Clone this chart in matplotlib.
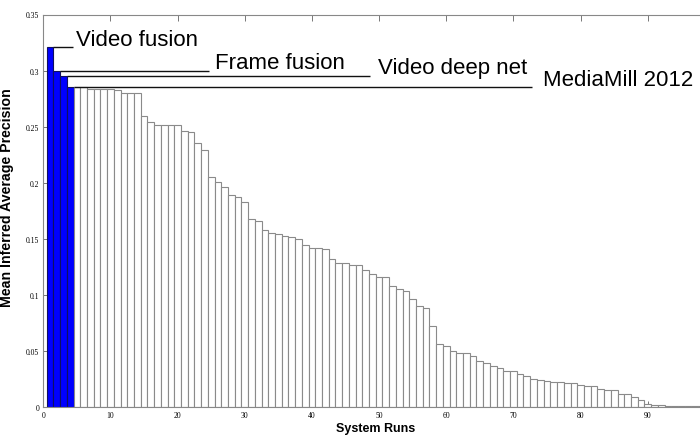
import matplotlib
matplotlib.use("Agg")
import matplotlib.pyplot as plt
import numpy as np

# ---- data ----
runs = list(range(1, 100))
map_values = [
    0.321, 0.300, 0.2954, 0.2853,
    0.285, 0.285, 0.2835, 0.2835, 0.2835, 0.2835, 0.283, 0.2797, 0.2797, 0.2797,
    0.259, 0.2538, 0.2517, 0.2517, 0.2517, 0.2517, 0.246, 0.2449, 0.235, 0.2288,
    0.2047, 0.2008, 0.1958, 0.1886, 0.1868, 0.1824, 0.1672, 0.166, 0.158, 0.1547,
    0.1538, 0.152, 0.1512, 0.1497, 0.144, 0.1419, 0.1419, 0.1405, 0.1318, 0.128,
    0.128, 0.1267, 0.1267, 0.1217, 0.1183, 0.1158, 0.1158, 0.1077, 0.105, 0.103,
    0.0961, 0.0899, 0.0879, 0.072, 0.0557, 0.0544, 0.0494, 0.0476, 0.0476, 0.0455,
    0.041, 0.0387, 0.036, 0.0348, 0.0316, 0.0316, 0.0289, 0.0271, 0.025, 0.0235,
    0.0227, 0.0218, 0.0218, 0.0209, 0.0209, 0.0194, 0.0182, 0.0182, 0.0155, 0.0146,
    0.0146, 0.011, 0.011, 0.0087, 0.0058, 0.0025, 0.0019, 0.0019,
    0.0008, 0.0008, 0.0008, 0.0008, 0.0008, 0.0008, 0.0008,
]
highlight_labels = ["Video fusion", "Frame fusion", "Video deep net", "MediaMill 2012"]
x_ticks = [0, 10, 20, 30, 40, 50, 60, 70, 80, 90]
y_ticks = [0, 0.05, 0.1, 0.15, 0.2, 0.25, 0.3, 0.35]
y_tick_labels = ["0", "0.05", "0.1", "0.15", "0.2", "0.25", "0.3", "0.35"]

# layout constants for the annotation leader lines and label anchors (data x)
line_ends = [4.4, 24.7, 48.6, 72.8]
label_x = [4.85, 25.55, 49.8, 74.4]

fig = plt.figure(figsize=(7.0, 4.39), dpi=100)
ax = fig.add_axes([43.3 / 700, 31.3 / 439, 671.6 / 700, 392.2 / 439])

n_hl = len(highlight_labels)
colors = ["#0000ff"] * n_hl + ["white"] * (len(runs) - n_hl)
edges = ["#101060"] * n_hl + ["#8a8a8a"] * (len(runs) - n_hl)
ax.bar(runs, map_values, width=1.0, color=colors, edgecolor=edges, linewidth=0.8, zorder=2)

for i, (lab, xe, xl) in enumerate(zip(highlight_labels, line_ends, label_x)):
    yv = map_values[i]
    ax.plot([runs[i] + 0.5, xe], [yv, yv], color="#111111", lw=1.0, zorder=3,
            solid_capstyle="butt")
    ax.text(xl, yv + 0.002, lab, fontsize=16, family="Liberation Sans",
            ha="left", va="baseline", color="black")

ax.set_xlim(0, 100)
ax.set_ylim(0, 0.35)
ax.set_xticks(x_ticks)
ax.set_xticklabels([str(t) for t in x_ticks])
ax.set_yticks(y_ticks)
ax.set_yticklabels(y_tick_labels)

for lbl in ax.get_xticklabels() + ax.get_yticklabels():
    lbl.set_family("Liberation Serif")
    lbl.set_fontsize(5.5)

ax.tick_params(direction="in", length=4.3, width=0.7, color="#777777",
               top=True, right=True, pad=3)

for sp in ax.spines.values():
    sp.set_color("#888888")
    sp.set_linewidth(0.8)

ax.set_xlabel("System Runs", fontsize=9, fontweight="bold", family="Liberation Sans")
ax.set_ylabel("Mean Inferred Average Precision", fontsize=10.2, fontweight="bold",
              family="Liberation Sans")
ax.xaxis.set_label_coords(0.4947, -0.038)
ax.yaxis.set_label_coords(-0.044, 0.535)

fig.savefig("out.png", dpi=100)
